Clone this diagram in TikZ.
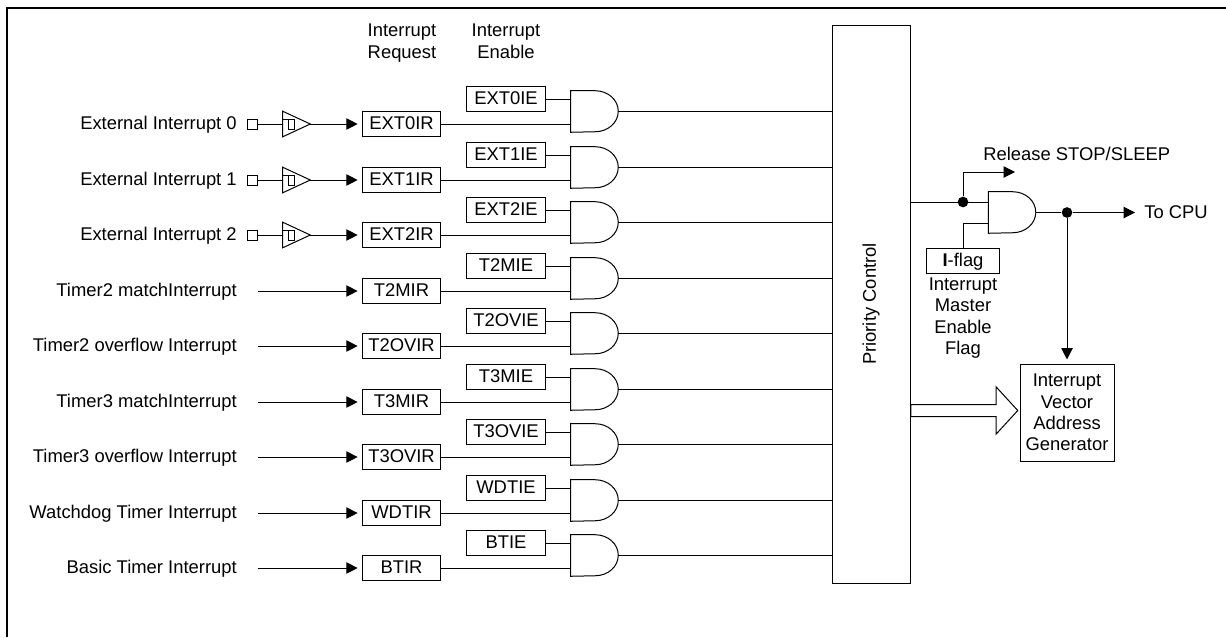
\documentclass[tikz,border=0pt]{standalone}
\usepackage{fontspec}
\setmainfont{Liberation Sans}
\usetikzlibrary{arrows.meta,shapes.arrows}
\begin{document}
\begin{tikzpicture}[
    x=0.75pt, y=-0.75pt,
    every node/.style={font=\fontsize{13.8}{16}\selectfont, inner sep=0pt},
    sig/.style={line width=0.75pt},
    arr/.style={sig, shorten >=3pt, -{Triangle[length=8.5pt,width=8.5pt]}},
    lbl/.style={anchor=east, inner xsep=15.75pt, text height=10pt, text depth=2pt},
    hdr/.style={align=center, anchor=north},
    regbox/.style={draw, line width=0.75pt, minimum width=59pt, minimum height=19pt, text height=10pt, text depth=2pt},
    andgate/.style={minimum width=35.25pt, minimum height=30.75pt, append after command={\pgfextra{
        \draw[sig] (\tikzlastnode.north west) -- ([xshift=-17.25pt]\tikzlastnode.north east)
          arc[start angle=90, end angle=-90, x radius=17.25pt, y radius=15.375pt] -- (\tikzlastnode.south west) -- cycle;}}},
    schmitt/.style={minimum width=20.25pt, minimum height=18.75pt, append after command={\pgfextra{
        \draw[sig] (\tikzlastnode.north west) -- (\tikzlastnode.east) -- (\tikzlastnode.south west) -- cycle;
        \draw[sig] (\tikzlastnode.west) ++(0,-5) -- ++(12,0) -- ++(0,10) -- ++(-6,0) -- ++(0,-10);}}},
    pad/.style={draw, line width=0.75pt, minimum width=8pt, minimum height=7.5pt},
    dot/.style={circle, fill=black, minimum size=8pt},
  ]
    \useasboundingbox (0,0) rectangle (1226,637);
    \draw[line width=1.5pt] (7,637) -- (7,8) -- (1226,8);

    \node[hdr] (reqhdr) at (402,24) {Interrupt\\Request};
    \node[hdr] (enhdr) at (506,24) {Interrupt\\Enable};
    \node[draw, line width=0.75pt, minimum width=58.5pt, minimum height=418.5pt] (prio) at (871,304) {};
    \node[rotate=90] (priotxt) at (871,304) {Priority Control};

    % request row, enable box, gate
    \node[lbl] (l0) at (258,124) {External Interrupt 0};      \node[regbox] (ext0ir) at (401.5,124) {EXT0IR};  \node[regbox] (ext0ie) at (506,99) {EXT0IE};   \node[andgate] (and0) at (594.5,111.5) {};
    \node[lbl] (l1) at (258,180) {External Interrupt 1};      \node[regbox] (ext1ir) at (401.5,180) {EXT1IR};  \node[regbox] (ext1ie) at (506,155) {EXT1IE};  \node[andgate] (and1) at (594.5,167.5) {};
    \node[lbl] (l2) at (258,235) {External Interrupt 2};      \node[regbox] (ext2ir) at (401.5,235) {EXT2IR};  \node[regbox] (ext2ie) at (506,210) {EXT2IE};  \node[andgate] (and2) at (594.5,222.5) {};
    \node[lbl] (l3) at (258,291) {Timer2 matchInterrupt};     \node[regbox] (t2mir) at (401.5,291) {T2MIR};    \node[regbox] (t2mie) at (506,266) {T2MIE};    \node[andgate] (and3) at (594.5,278.5) {};
    \node[lbl] (l4) at (258,346) {Timer2 overflow Interrupt}; \node[regbox] (t2ovir) at (401.5,346) {T2OVIR};  \node[regbox] (t2ovie) at (506,321) {T2OVIE};  \node[andgate] (and4) at (594.5,333.5) {};
    \node[lbl] (l5) at (258,402) {Timer3 matchInterrupt};     \node[regbox] (t3mir) at (401.5,402) {T3MIR};    \node[regbox] (t3mie) at (506,377) {T3MIE};    \node[andgate] (and5) at (594.5,389.5) {};
    \node[lbl] (l6) at (258,457) {Timer3 overflow Interrupt}; \node[regbox] (t3ovir) at (401.5,457) {T3OVIR};  \node[regbox] (t3ovie) at (506,432) {T3OVIE};  \node[andgate] (and6) at (594.5,444.5) {};
    \node[lbl] (l7) at (258,513) {Watchdog Timer Interrupt};  \node[regbox] (wdtir) at (401.5,513) {WDTIR};    \node[regbox] (wdtie) at (506,488) {WDTIE};    \node[andgate] (and7) at (594.5,500.5) {};
    \node[lbl] (l8) at (258,568) {Basic Timer Interrupt};     \node[regbox] (btir) at (401.5,568) {BTIR};      \node[regbox] (btie) at (506,543) {BTIE};      \node[andgate] (and8) at (594.5,555.5) {};

    % external pins
    \node[pad] (pad0) at (252.5,124) {};  \node[schmitt] (buf0) at (296.5,124) {};
    \node[pad] (pad1) at (252.5,180) {};  \node[schmitt] (buf1) at (296.5,180) {};
    \node[pad] (pad2) at (252.5,235) {};  \node[schmitt] (buf2) at (296.5,235) {};
    \draw[sig] (pad0) -- (buf0.west);  \draw[arr] (buf0.east) -- (ext0ir);
    \draw[sig] (pad1) -- (buf1.west);  \draw[arr] (buf1.east) -- (ext1ir);
    \draw[sig] (pad2) -- (buf2.west);  \draw[arr] (buf2.east) -- (ext2ir);

    \draw[arr] (l3) -- (t2mir);
    \draw[arr] (l4) -- (t2ovir);
    \draw[arr] (l5) -- (t3mir);
    \draw[arr] (l6) -- (t3ovir);
    \draw[arr] (l7) -- (wdtir);
    \draw[arr] (l8) -- (btir);

    \draw[sig] (ext0ie) -- (ext0ie -| and0.west) (ext0ir) -- (ext0ir -| and0.west) (and0.east) -- (and0.east -| prio.west);
    \draw[sig] (ext1ie) -- (ext1ie -| and1.west) (ext1ir) -- (ext1ir -| and1.west) (and1.east) -- (and1.east -| prio.west);
    \draw[sig] (ext2ie) -- (ext2ie -| and2.west) (ext2ir) -- (ext2ir -| and2.west) (and2.east) -- (and2.east -| prio.west);
    \draw[sig] (t2mie) -- (t2mie -| and3.west) (t2mir) -- (t2mir -| and3.west) (and3.east) -- (and3.east -| prio.west);
    \draw[sig] (t2ovie) -- (t2ovie -| and4.west) (t2ovir) -- (t2ovir -| and4.west) (and4.east) -- (and4.east -| prio.west);
    \draw[sig] (t3mie) -- (t3mie -| and5.west) (t3mir) -- (t3mir -| and5.west) (and5.east) -- (and5.east -| prio.west);
    \draw[sig] (t3ovie) -- (t3ovie -| and6.west) (t3ovir) -- (t3ovir -| and6.west) (and6.east) -- (and6.east -| prio.west);
    \draw[sig] (wdtie) -- (wdtie -| and7.west) (wdtir) -- (wdtir -| and7.west) (and7.east) -- (and7.east -| prio.west);
    \draw[sig] (btie) -- (btie -| and8.west) (btir) -- (btir -| and8.west) (and8.east) -- (and8.east -| prio.west);

    % output side
    \node[andgate] (mainand) at (1012,212.5) {};
    \node[dot] (reldot) at (963,202) {};
    \node[dot] (cpudot) at (1067,212.5) {};
    \node[regbox, minimum width=55pt] (iflag) at (963,261) {\textbf{I}-flag};
    \node[hdr] (iflagtxt) at (963,277.5) {Interrupt\\Master\\Enable\\Flag};
    \node[anchor=west] (reltxt) at (983,154) {Release STOP/SLEEP};
    \coordinate (relend) at (1019,172);
    \coordinate (flagin) at (988,223);
    \node[anchor=west] (cputxt) at (1144,212.5) {To CPU};
    \node[draw, line width=0.75pt, minimum width=70.5pt, minimum height=72.75pt, align=center] (ivag) at (1067,412.5) {Interrupt\\Vector\\Address\\Generator};
    \node[single arrow, draw, line width=0.75pt, minimum height=80.25pt, inner sep=4.125pt, single arrow head extend=13.125pt, single arrow tip angle=95] (busarr) at (961.5,410.5) {};

    \draw[sig] (reldot -| prio.east) -- (reldot -| mainand.west);
    \draw[arr] (reldot) |- (relend);
    \draw[sig] (iflag.north) |- (flagin);
    \draw[sig] (mainand.east) -- (cpudot);
    \draw[arr, shorten >=6.75pt] (cpudot) -- (cputxt.west);
    \draw[arr] (cpudot) -- (ivag.north);
  \end{tikzpicture}
\end{document}
